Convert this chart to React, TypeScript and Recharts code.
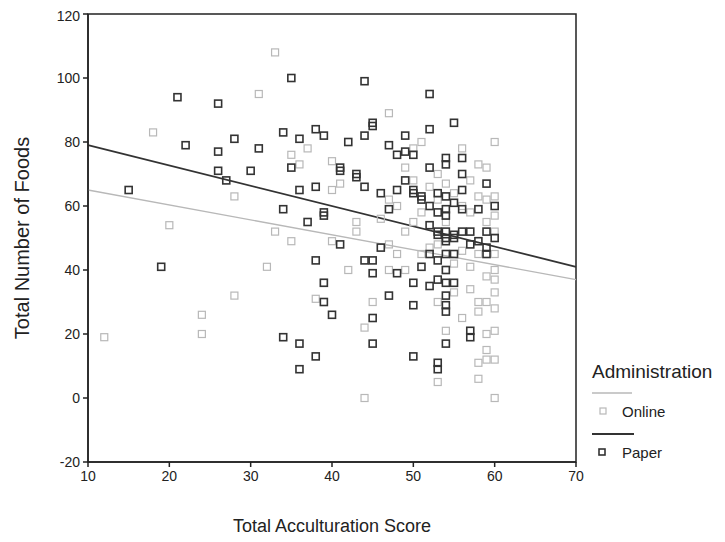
import { ReferenceArea, ReferenceLine, Scatter, ScatterChart, XAxis, YAxis } from 'recharts';

const xTicks = [10, 20, 30, 40, 50, 60, 70];
const yTicks = [-20, 0, 20, 40, 60, 80, 100, 120];

// [acculturation score, number of foods]
const paperPoints: [number, number][] = [
  [15, 65], [19, 41], [21, 94], [22, 79], [26, 92], [26, 77], [26, 71], [27, 68], [28, 81], [30, 71],
  [31, 78], [34, 83], [34, 59], [35, 100], [35, 72], [36, 65], [36, 81], [37, 55], [38, 84], [38, 66],
  [38, 43], [39, 82], [39, 58], [39, 57], [39, 30], [40, 26], [39, 36], [38, 13], [36, 17], [36, 9],
  [34, 19], [41, 72], [41, 71], [41, 48], [42, 80], [43, 70], [43, 69], [44, 99], [44, 82], [44, 66],
  [45, 86], [45, 85], [45, 43], [44, 43], [45, 39], [46, 64], [46, 47], [45, 25], [45, 17], [47, 79],
  [47, 59], [48, 76], [48, 65], [47, 32], [48, 39], [49, 82], [49, 77], [49, 68], [50, 76], [50, 65],
  [50, 64], [50, 36], [50, 29], [50, 13], [51, 63], [51, 62], [51, 41], [52, 95], [52, 84], [52, 72],
  [52, 60], [52, 54], [52, 45], [52, 35], [53, 64], [53, 58], [53, 52], [53, 51], [53, 43], [53, 37],
  [53, 11], [53, 9], [54, 75], [54, 73], [54, 63], [54, 59], [54, 57], [54, 52], [54, 50], [54, 49],
  [54, 45], [54, 40], [54, 36], [54, 32], [54, 29], [54, 27], [54, 17], [55, 86], [55, 61], [55, 51],
  [55, 50], [55, 45], [55, 36], [56, 75], [56, 70], [56, 65], [56, 59], [56, 52], [57, 52], [57, 48],
  [57, 19], [57, 21], [58, 59], [58, 49], [59, 67], [59, 52], [59, 47], [59, 45], [60, 60], [60, 50],
];

const onlinePoints: [number, number][] = [
  [12, 19], [18, 83], [20, 54], [24, 26], [24, 20], [28, 32], [28, 63], [31, 95], [32, 41], [33, 108],
  [33, 52], [35, 49], [35, 76], [36, 73], [37, 78], [38, 31], [39, 36], [40, 74], [40, 65], [40, 49],
  [41, 67], [42, 40], [43, 52], [43, 55], [44, 0], [44, 22], [45, 30], [46, 56], [47, 89], [47, 62],
  [47, 40], [47, 48], [48, 60], [48, 45], [49, 52], [49, 40], [49, 72], [50, 78], [50, 68], [50, 55],
  [51, 80], [51, 58], [51, 45], [52, 47], [52, 66], [53, 5], [53, 48], [53, 30], [53, 62], [53, 70],
  [54, 40], [54, 55], [54, 67], [54, 21], [55, 64], [55, 42], [55, 33], [56, 25], [56, 46], [56, 60],
  [56, 78], [57, 58], [57, 41], [57, 68], [57, 34], [58, 30], [58, 27], [58, 11], [58, 6], [58, 45],
  [58, 63], [58, 73], [59, 38], [59, 30], [59, 62], [59, 72], [59, 55], [59, 20], [59, 15], [60, 80],
  [60, 0], [60, 21], [60, 33], [60, 45], [60, 52], [60, 57], [60, 40], [60, 28], [60, 12], [59, 12],
  [60, 63], [60, 37],
];

// fit line end points (x, y)
const paperFit: [number, number][] = [[10, 79], [70, 41]];
const onlineFit: [number, number][] = [[10, 65], [70, 37]];

const DARK = '#333';
const LIGHT = '#b8b8b8';
const FONT = '"Liberation Sans", Arial, sans-serif';

const toXY = (pts: [number, number][]) => pts.map(([x, y]) => ({ x, y }));

function square(color: string, width: number) {
  return (props: any) => {
    const { cx, cy } = props;
    if (cx == null || cy == null) return <g />;
    return (
      <rect x={cx - 3.5} y={cy - 3.5} width={7} height={7} fill="none" stroke={color} strokeWidth={width} />
    );
  };
}

function LegendBox() {
  return (
    <svg
      width={140}
      height={130}
      style={{ position: 'absolute', left: 576, top: 340, fontFamily: FONT }}
    >
      <text x={8} y={30} fontSize={19} fill="#222">Administration</text>
      <line x1={8} x2={48} y1={45} y2={45} stroke={LIGHT} strokeWidth={1.3} />
      <rect x={16} y={60} width={6} height={6} fill="none" stroke={LIGHT} strokeWidth={1.2} />
      <text x={38} y={69} fontSize={15} fill="#222">Online</text>
      <line x1={8} x2={50} y1={86} y2={86} stroke={DARK} strokeWidth={1.8} />
      <rect x={15} y={101} width={6} height={6} fill="none" stroke={DARK} strokeWidth={1.6} />
      <text x={38} y={110} fontSize={15} fill="#222">Paper</text>
    </svg>
  );
}

export default function App() {
  return (
    <div style={{ position: 'relative', width: 709, height: 534, fontFamily: FONT }}>
      <ScatterChart width={709} height={534} margin={{ top: 6, right: 141, left: 0, bottom: 0 }}>
        <XAxis
          type="number"
          dataKey="x"
          domain={[10, 70]}
          ticks={xTicks}
          height={80}
          stroke="#222"
          strokeWidth={1.5}
          tickSize={5}
          tickMargin={4}
          tick={{ fontSize: 14, fill: '#222', fontFamily: FONT }}
          label={{ value: 'Total Acculturation Score', position: 'insideBottom', offset: 10, fontSize: 18, fill: '#222', fontFamily: FONT }}
        />
        <YAxis
          type="number"
          dataKey="y"
          domain={[-20, 120]}
          ticks={yTicks}
          width={80}
          stroke="#222"
          strokeWidth={1.5}
          tickSize={5}
          tickMargin={3}
          tick={{ fontSize: 14, fill: '#222', fontFamily: FONT }}
          label={{
            value: 'Total Number of Foods',
            angle: -90,
            position: 'insideLeft',
            offset: 14,
            fontSize: 20,
            fill: '#222',
            fontFamily: FONT,
            style: { textAnchor: 'middle' },
          }}
        />
        <ReferenceArea x1={10} x2={70} y1={-20} y2={120} fill="none" stroke="#222" strokeWidth={1.5} />
        <Scatter
          name="Online"
          data={toXY(onlinePoints)}
          shape={square(LIGHT, 1.2)}
          isAnimationActive={false}
        />
        <Scatter
          name="Paper"
          data={toXY(paperPoints)}
          shape={square(DARK, 1.6)}
          isAnimationActive={false}
        />
        <ReferenceLine
          segment={onlineFit.map(([x, y]) => ({ x, y }))}
          stroke={LIGHT}
          strokeWidth={1.3}
        />
        <ReferenceLine
          segment={paperFit.map(([x, y]) => ({ x, y }))}
          stroke={DARK}
          strokeWidth={1.8}
        />
      </ScatterChart>
      <LegendBox />
    </div>
  );
}
